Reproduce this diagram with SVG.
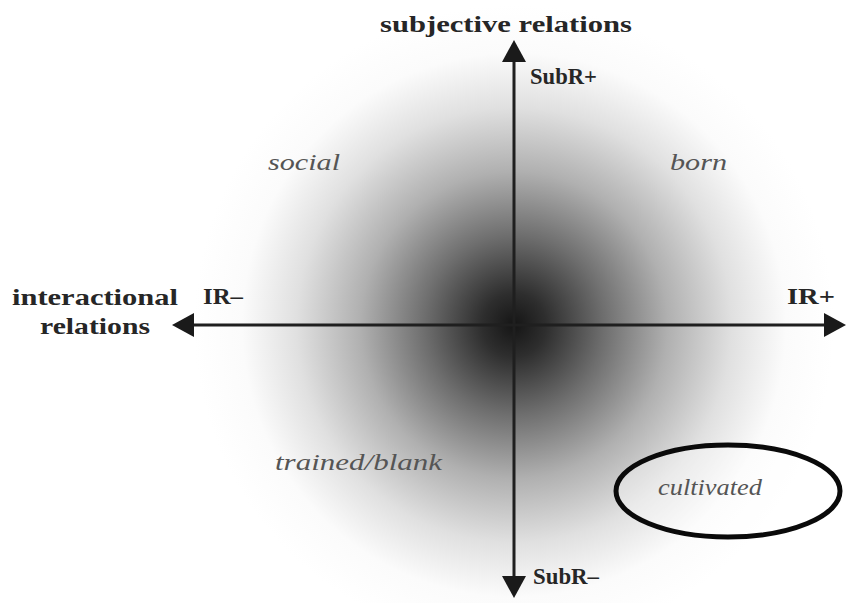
<svg xmlns="http://www.w3.org/2000/svg" width="848" height="603" viewBox="0 0 848 603">
<defs>
<radialGradient id="glow" cx="514" cy="325" r="320" gradientUnits="userSpaceOnUse">
<stop offset="0" stop-color="#151515"/>
<stop offset="0.1" stop-color="#2e2e2e"/>
<stop offset="0.28" stop-color="#6e6e6e"/>
<stop offset="0.48" stop-color="#b0b0b0"/>
<stop offset="0.68" stop-color="#e0e0e0"/>
<stop offset="0.85" stop-color="#fbfbfb"/>
<stop offset="1" stop-color="#ffffff"/>
</radialGradient>
<style>
.bold{font-family:"Liberation Serif","Times New Roman",serif;font-weight:bold;font-size:24px;fill:#262626}
.it{font-family:"Liberation Serif","Times New Roman",serif;font-style:italic;font-size:24px;fill:#555555}
.ax{stroke:#1f1f1f;stroke-width:3;fill:none}
.head{fill:#1a1a1a}
</style>
</defs>
<rect width="848" height="603" fill="#ffffff"/>
<rect width="848" height="603" fill="url(#glow)"/>
<g id="connectors">
<line class="ax" x1="514" y1="60" x2="514" y2="578"/>
<path class="head" d="M514,40 L502,62 L526,62 z"/>
<path class="head" d="M514,598 L502,576 L526,576 z"/>
<line class="ax" x1="192" y1="325" x2="826" y2="325"/>
<path class="head" d="M172,325 L194,313 L194,337 z"/>
<path class="head" d="M846,325 L824,313 L824,337 z"/>
</g>
<g id="node-subjective">
<text class="bold" x="380" y="32" textLength="252" lengthAdjust="spacingAndGlyphs">subjective relations</text>
</g>
<g id="node-subr-plus">
<text class="bold" x="530" y="84" textLength="67" lengthAdjust="spacingAndGlyphs">SubR+</text>
</g>
<g id="node-subr-minus">
<text class="bold" x="533" y="584" textLength="66" lengthAdjust="spacingAndGlyphs">SubR–</text>
</g>
<g id="node-interactional">
<text class="bold" x="12" y="305" textLength="166" lengthAdjust="spacingAndGlyphs">interactional</text>
<text class="bold" x="40" y="334" textLength="110" lengthAdjust="spacingAndGlyphs">relations</text>
</g>
<g id="node-ir-minus">
<text class="bold" x="203" y="304" textLength="40" lengthAdjust="spacingAndGlyphs">IR–</text>
</g>
<g id="node-ir-plus">
<text class="bold" x="787" y="304" textLength="48" lengthAdjust="spacingAndGlyphs">IR+</text>
</g>
<g id="node-social">
<text class="it" x="268" y="170" textLength="72" lengthAdjust="spacingAndGlyphs">social</text>
</g>
<g id="node-born">
<text class="it" x="670" y="170" textLength="57" lengthAdjust="spacingAndGlyphs">born</text>
</g>
<g id="node-trained">
<text class="it" x="275" y="470" textLength="167" lengthAdjust="spacingAndGlyphs">trained/blank</text>
</g>
<g id="node-cultivated">
<ellipse cx="728" cy="491" rx="112" ry="46" fill="#ffffff" fill-opacity="0.35" stroke="#0a0a0a" stroke-width="5"/>
<text class="it" x="658" y="495" textLength="104" lengthAdjust="spacingAndGlyphs">cultivated</text>
</g>
</svg>
